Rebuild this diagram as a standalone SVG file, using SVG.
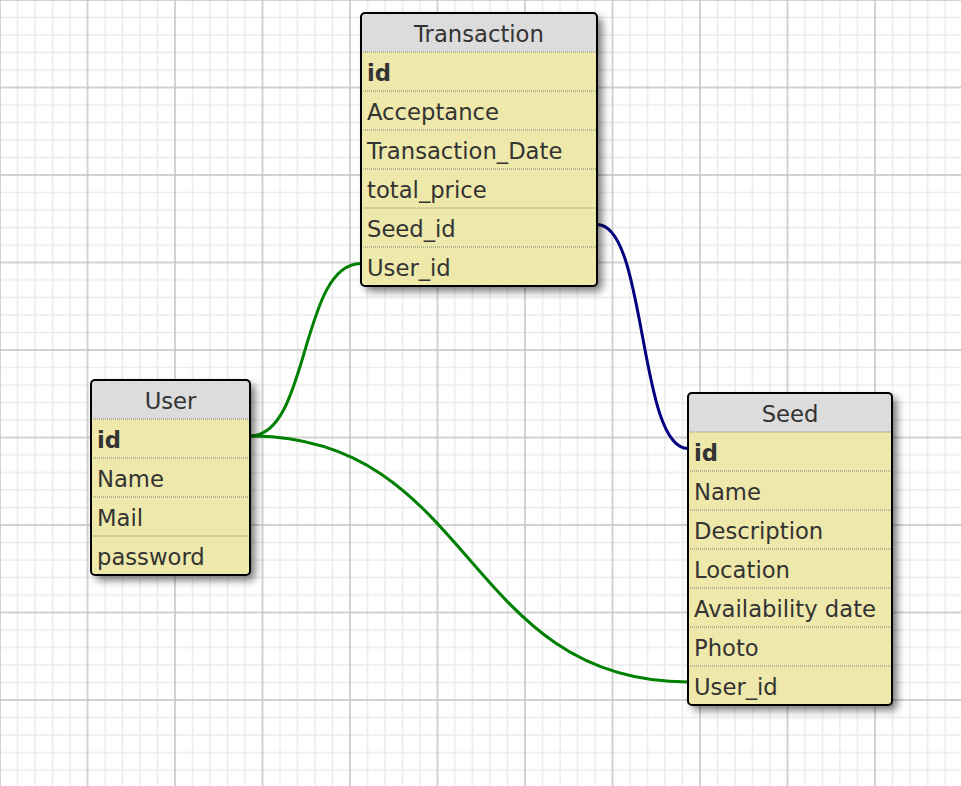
<svg xmlns="http://www.w3.org/2000/svg" width="961" height="786" viewBox="0 0 961 786">
<defs>
<pattern id="grid" patternUnits="userSpaceOnUse" x="-43.75" y="-43.75" width="87.5" height="87.5">
<path d="M8.75 0V87.5M26.25 0V87.5M61.25 0V87.5M78.75 0V87.5M0 8.75H87.5M0 26.25H87.5M0 61.25H87.5M0 78.75H87.5" stroke="#ebebeb" stroke-width="1.5" fill="none"/>
<path d="M43.75 0V87.5M0 43.75H87.5" stroke="#c4c4c4" stroke-width="1.5" fill="none"/>
</pattern>
<filter id="shadow" x="-20%" y="-20%" width="150%" height="150%">
<feDropShadow dx="5" dy="5" stdDeviation="4" flood-color="#000" flood-opacity="0.55"/>
</filter>
</defs>
<style>
.body{fill:#eee8aa}
.head{fill:#dcdcdc}
.border{fill:none;stroke:#000;stroke-width:2}
.sep{stroke:#808080;stroke-width:1;stroke-dasharray:1 1}
text{font-family:"DejaVu Sans","Verdana",sans-serif;font-size:22.7px;fill:#333}
.title{text-anchor:middle}
.pk{font-weight:bold}
.conn{fill:none;stroke-width:3}
</style>
<rect width="961" height="786" fill="#fff"/>
<rect width="961" height="786" fill="url(#grid)"/>
<g id="connectors">
<path class="conn" stroke="#008000" d="M250 436 C310 436 300 263.5 361 263.5"/>
<path class="conn" stroke="#008000" d="M250 436 C475 436 463 682 688 682"/>
<path class="conn" stroke="#000080" d="M597 224.5 C647 224.5 638 448.5 688 448.5"/>
</g>
<g id="Transaction">
<rect class="body" x="361" y="13" width="236" height="273" rx="4" filter="url(#shadow)"/>
<path class="head" d="M361 52V17Q361 13 365 13H593Q597 13 597 17V52Z"/>
<line class="sep" x1="361" y1="52" x2="597" y2="52"/>
<line class="sep" x1="361" y1="91" x2="597" y2="91"/>
<line class="sep" x1="361" y1="130" x2="597" y2="130"/>
<line class="sep" x1="361" y1="169" x2="597" y2="169"/>
<line class="sep" x1="361" y1="208" x2="597" y2="208"/>
<line class="sep" x1="361" y1="247" x2="597" y2="247"/>
<rect class="border" x="361" y="13" width="236" height="273" rx="4"/>
<text class="title" x="479" y="42">Transaction</text>
<text class="pk" x="367" y="80.5">id</text>
<text x="367" y="119.5">Acceptance</text>
<text x="367" y="158.5">Transaction_Date</text>
<text x="367" y="197.5">total_price</text>
<text x="367" y="236.5">Seed_id</text>
<text x="367" y="275.5">User_id</text>
</g>
<g id="User">
<rect class="body" x="91" y="380" width="159" height="195" rx="4" filter="url(#shadow)"/>
<path class="head" d="M91 419V384Q91 380 95 380H246Q250 380 250 384V419Z"/>
<line class="sep" x1="91" y1="419" x2="250" y2="419"/>
<line class="sep" x1="91" y1="458" x2="250" y2="458"/>
<line class="sep" x1="91" y1="497" x2="250" y2="497"/>
<line class="sep" x1="91" y1="536" x2="250" y2="536"/>
<rect class="border" x="91" y="380" width="159" height="195" rx="4"/>
<text class="title" x="170.5" y="409">User</text>
<text class="pk" x="97" y="447.5">id</text>
<text x="97" y="486.5">Name</text>
<text x="97" y="525.5">Mail</text>
<text x="97" y="564.5">password</text>
</g>
<g id="Seed">
<rect class="body" x="688" y="393" width="204" height="312" rx="4" filter="url(#shadow)"/>
<path class="head" d="M688 432V397Q688 393 692 393H888Q892 393 892 397V432Z"/>
<line class="sep" x1="688" y1="432" x2="892" y2="432"/>
<line class="sep" x1="688" y1="471" x2="892" y2="471"/>
<line class="sep" x1="688" y1="510" x2="892" y2="510"/>
<line class="sep" x1="688" y1="549" x2="892" y2="549"/>
<line class="sep" x1="688" y1="588" x2="892" y2="588"/>
<line class="sep" x1="688" y1="627" x2="892" y2="627"/>
<line class="sep" x1="688" y1="666" x2="892" y2="666"/>
<rect class="border" x="688" y="393" width="204" height="312" rx="4"/>
<text class="title" x="790" y="422">Seed</text>
<text class="pk" x="694" y="460.5">id</text>
<text x="694" y="499.5">Name</text>
<text x="694" y="538.5">Description</text>
<text x="694" y="577.5">Location</text>
<text x="694" y="616.5">Availability date</text>
<text x="694" y="655.5">Photo</text>
<text x="694" y="694.5">User_id</text>
</g>
</svg>
